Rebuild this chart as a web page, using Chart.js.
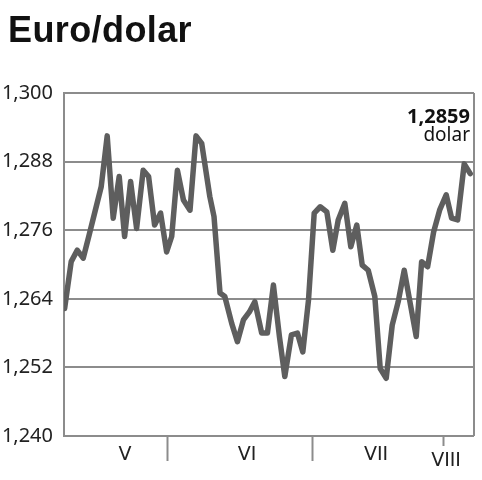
<!DOCTYPE html>
<html>
<head>
<meta charset="utf-8">
<script src="https://cdn.jsdelivr.net/npm/chart.js@4"></script>
<style>
  body { margin: 0; background: #fff; }
  #wrap { position: relative; width: 482px; height: 480px; }
  #title {
    position: absolute; left: 8px; top: 9px;
    font: bold 36px "Liberation Sans", Arial, sans-serif;
    color: #111; letter-spacing: 0.4px;
  }
  canvas { position: absolute; left: 0; top: 0; }
</style>
</head>
<body>
<div id="wrap">
  <canvas id="chart" width="482" height="480"></canvas>
  <div id="title">Euro/dolar</div>
</div>
<script>
// ---- data ----
// x = trading day position (0 = start of May), y = EUR/USD rate
const dayPos = [0.1, 1.2, 2.2, 3.2, 4.2, 5.2, 6.2, 7.2, 8.2, 9.2, 10.1, 11.1, 12.1, 13.2, 14.1, 15.1, 16.1, 17.1,
  17.95, 18.9, 19.9, 21.0, 22.0, 22.95, 24.3, 25.0, 26.0, 26.8, 27.95, 28.9, 29.9, 30.9, 31.8, 32.95, 33.9, 34.9,
  35.9, 36.8, 37.9, 38.9, 39.8, 40.75, 41.7, 42.7, 43.8, 44.8, 45.7, 46.8, 47.8, 48.8, 49.7, 50.7, 51.8, 52.7,
  53.7, 54.7, 55.7, 56.7, 57.7, 58.7, 59.6, 60.6, 61.6, 62.6, 63.7, 64.6, 65.6, 66.7, 67.7];
const rates = [1.2623, 1.2705, 1.2725, 1.2711, 1.2752, 1.2794, 1.2836, 1.2925, 1.2781, 1.2854, 1.2749, 1.2845,
  1.2763, 1.2865, 1.2854, 1.2769, 1.2790, 1.2722,
  1.2749, 1.2865, 1.2813, 1.2795, 1.2925, 1.2912, 1.2819, 1.2784, 1.2650, 1.2644, 1.2597, 1.2565, 1.2603, 1.2617,
  1.2635, 1.2580, 1.2580, 1.2664,
  1.2574, 1.2504, 1.2577, 1.2580, 1.2547, 1.2638, 1.2790, 1.2801, 1.2792, 1.2725, 1.2778, 1.2807, 1.2731, 1.2769,
  1.2699, 1.2690, 1.2644, 1.2518,
  1.2501, 1.2594, 1.2635, 1.2690, 1.2632, 1.2574, 1.2705, 1.2696, 1.2757, 1.2795, 1.2822, 1.2781, 1.2778, 1.2876, 1.2859];

const yTicks = [1.240, 1.252, 1.264, 1.276, 1.288, 1.300];
const monthTicks = [17.17, 41.33, 63.17];
const monthLabels = ["V", "VI", "VII", "VIII"];
const monthLabelPos = [10.17, 30.5, 52, 63.67];
const lastValue = "1,2859";
const lastUnit = "dolar";

const gridGray = "#8c8c8c";
const fmt = v => v.toFixed(3).replace(".", ",");

// ---- extra drawing: right border, month ticks & labels, last value ----
const decorPlugin = {
  id: "decor",
  afterDraw(chart) {
    const ctx = chart.ctx;
    const a = chart.chartArea;
    const xs = chart.scales.x;
    ctx.save();
    ctx.strokeStyle = gridGray;
    ctx.lineWidth = 2;
    ctx.beginPath();
    ctx.moveTo(a.right, a.top);
    ctx.lineTo(a.right, a.bottom);
    ctx.stroke();

    // month separators (last one is short)
    monthTicks.forEach((m, i) => {
      const px = Math.round(xs.getPixelForValue(m)) + 0.5;
      const len = i === monthTicks.length - 1 ? 10 : 25;
      ctx.beginPath();
      ctx.moveTo(px, a.bottom);
      ctx.lineTo(px, a.bottom + len);
      ctx.stroke();
    });

    ctx.fillStyle = "#222";
    ctx.font = '19px "DejaVu Sans", sans-serif';
    ctx.textAlign = "center";
    ctx.textBaseline = "middle";
    monthLabels.forEach((lab, i) => {
      const dy = i === monthLabels.length - 1 ? 25 : 19;
      ctx.fillText(lab, xs.getPixelForValue(monthLabelPos[i]), a.bottom + dy);
    });

    // last value note
    ctx.textAlign = "right";
    ctx.textBaseline = "alphabetic";
    ctx.fillStyle = "#111";
    ctx.font = 'bold 20px "Noto Sans", sans-serif';
    ctx.fillText(lastValue, a.right - 4, a.top + 30);
    ctx.font = '19px "Noto Sans", sans-serif';
    ctx.fillText(lastUnit, a.right - 4, a.top + 48);
    ctx.restore();
  }
};

new Chart(document.getElementById("chart"), {
  type: "line",
  data: {
    datasets: [{
      data: dayPos.map((d, i) => ({ x: d, y: rates[i] })),
      borderColor: "#5e5e5e",
      borderWidth: 5.5,
      borderJoinStyle: "round",
      borderCapStyle: "round",
      pointRadius: 0,
      tension: 0
    }]
  },
  options: {
    responsive: false,
    animation: false,
    layout: { padding: { top: 93, right: 8, left: 0, bottom: 0 } },
    plugins: { legend: { display: false }, tooltip: { enabled: false } },
    scales: {
      x: {
        type: "linear",
        min: 0,
        max: 68.33,
        grid: { display: false },
        ticks: { display: false },
        border: { display: false },
        afterFit: s => { s.height = 44; }
      },
      y: {
        min: 1.24,
        max: 1.30,
        afterBuildTicks: s => { s.ticks = yTicks.map(v => ({ value: v })); },
        ticks: {
          callback: v => fmt(v),
          color: "#222",
          padding: 11,
          font: { family: '"Noto Sans", sans-serif', size: 20 }
        },
        grid: { color: gridGray, lineWidth: 2, drawTicks: false },
        border: { color: gridGray, width: 2 },
        afterFit: s => { s.width = 64; }
      }
    }
  },
  plugins: [decorPlugin]
});
</script>
</body>
</html>
